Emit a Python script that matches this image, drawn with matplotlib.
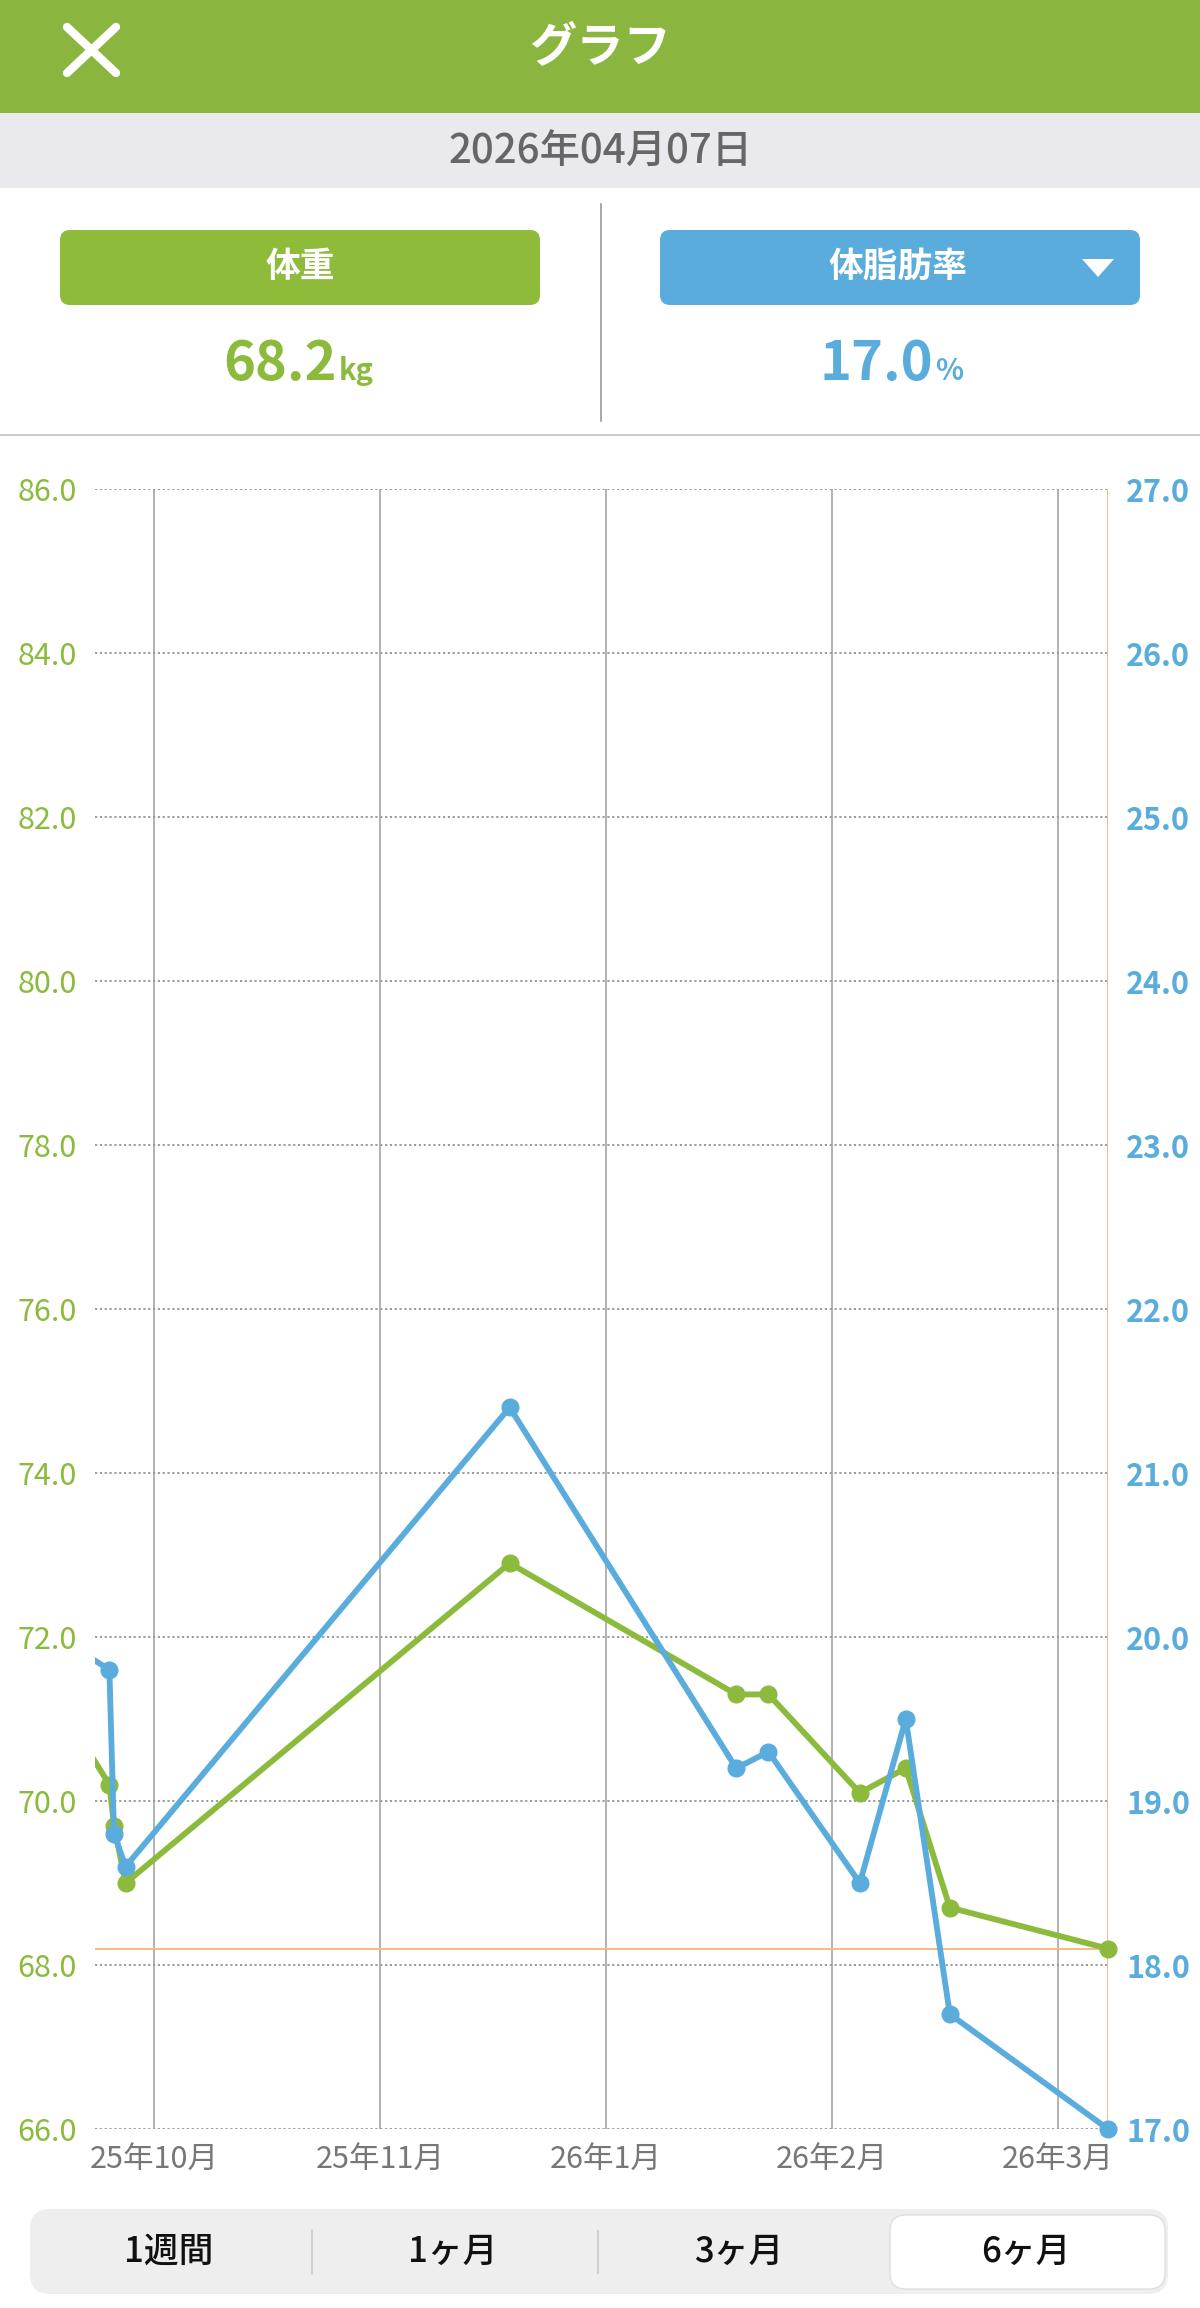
import numpy as np
import pandas as pd
import matplotlib
matplotlib.use("Agg")
import matplotlib.pyplot as plt
from matplotlib.patches import FancyBboxPatch, Rectangle, Polygon

plt.rcParams['font.family'] = ['Noto Sans CJK JP', 'DejaVu Sans']

# ── data ──────────────────────────────────────────────────────────────────────
dates = pd.to_datetime([
    "2025-10-05 00:00", "2025-10-09 14:00", "2025-10-10 10:00", "2025-10-12 12:00",
    "2025-12-20 12:00", "2026-01-30 05:00", "2026-02-05 00:00", "2026-02-21 10:00",
    "2026-03-01 16:00", "2026-03-09 14:00", "2026-04-07 00:00",
])
weight   = [70.7, 70.2, 69.7, 69.0, 72.9, 71.3, 71.3, 70.1, 70.4, 68.7, 68.2]
body_fat = [19.9, 19.8, 18.8, 18.6, 21.4, 19.2, 19.3, 18.5, 19.5, 17.7, 17.0]

x_start, x_end = pd.Timestamp("2025-10-07"), pd.Timestamp("2026-04-07")
tick_dates = pd.to_datetime(["2025-10-17 15:00", "2025-11-27 05:00", "2026-01-06 19:00",
                             "2026-02-16 09:00", "2026-03-28 23:00"])
tick_labels = ["25年10月", "25年11月", "26年1月", "26年2月", "26年3月"]
weight_ticks = np.arange(66, 86.1, 2)
fat_ticks    = np.arange(17, 27.1, 1)
tabs = ["1週間", "1ヶ月", "3ヶ月", "6ヶ月"]

GREEN      = "#8cba3c"
HEAD_GREEN = "#8ab640"
BLUE       = "#5aacdc"
ORANGE     = "#f4bc82"
GRID       = "#8a8a8a"

W, H = 1200, 2308
fig = plt.figure(figsize=(W / 100, H / 100), dpi=100)

# ── app chrome (pixel coordinates) ───────────────────────────────────────────
bg = fig.add_axes([0, 0, 1, 1])
bg.set_xlim(0, W)
bg.set_ylim(H, 0)
bg.axis('off')

bg.add_patch(Rectangle((0, 0), W, 113, color=HEAD_GREEN, lw=0))
bg.plot([67, 116], [27, 73], color="white", lw=6, solid_capstyle='round')
bg.plot([67, 116], [73, 27], color="white", lw=6, solid_capstyle='round')
bg.text(600, 48, "グラフ", color="white", fontsize=34, fontweight='bold',
        ha='center', va='center')

bg.add_patch(Rectangle((0, 113), W, 75, color="#e9e9ee", lw=0))
bg.text(600, 152, "2026年04月07日", color="#666666", fontsize=29, fontweight='medium',
        ha='center', va='center')

bg.add_patch(FancyBboxPatch((60, 230), 480, 75, boxstyle="round,pad=0,rounding_size=10",
                            color="#8fbb3b", lw=0))
bg.text(300, 266, "体重", color="white", fontsize=25, fontweight='bold',
        ha='center', va='center')
bg.add_patch(FancyBboxPatch((660, 230), 480, 75, boxstyle="round,pad=0,rounding_size=10",
                            color=BLUE, lw=0))
bg.text(898, 266, "体脂肪率", color="white", fontsize=25, fontweight='bold',
        ha='center', va='center')
bg.add_patch(Polygon([(1082, 259), (1114, 259), (1098, 277)], color="white", lw=0))

bg.text(337, 380, f"{weight[-1]:.1f}", color=GREEN, fontsize=39, fontweight='bold',
        ha='right', va='baseline')
bg.text(339, 380, "kg", color=GREEN, fontsize=21, fontweight='bold',
        ha='left', va='baseline')
bg.text(933, 380, f"{body_fat[-1]:.1f}", color=BLUE, fontsize=39, fontweight='bold',
        ha='right', va='baseline')
bg.text(935, 380, "%", color=BLUE, fontsize=21, fontweight='bold',
        ha='left', va='baseline')

bg.plot([601, 601], [204, 421], color="#9a9a9a", lw=1.2)
bg.plot([0, W], [435, 435], color="#cccccc", lw=1.5)

# tab bar
bg.add_patch(FancyBboxPatch((30, 2209), 1138, 85, boxstyle="round,pad=0,rounding_size=20",
                            color="#eeeeee", lw=0))
bg.add_patch(FancyBboxPatch((890, 2215), 275, 74, boxstyle="round,pad=0,rounding_size=16",
                            facecolor="white", edgecolor="#dedede", lw=1))
for sx in (312, 598):
    bg.plot([sx, sx], [2231, 2273], color="#d0d0d0", lw=1.5)
for cx, lab in zip((169, 453, 739, 1026), tabs):
    bg.text(cx, 2252, lab, color="#111111", fontsize=25, fontweight='medium',
            ha='center', va='center')

# ── chart ─────────────────────────────────────────────────────────────────────
left, right, top, bottom = 95, 1108, 489, 2129
ax = fig.add_axes([left / W, 1 - bottom / H, (right - left) / W, (bottom - top) / H])
ax.patch.set_alpha(0)
ax2 = ax.twinx()

ax.set_xlim(x_start, x_end)
ax.set_ylim(weight_ticks[0], weight_ticks[-1])
ax2.set_ylim(fat_ticks[0], fat_ticks[-1])

for y in weight_ticks:
    ax.axhline(y, color=GRID, lw=1.2, ls=(0, (1.3, 1.6)), zorder=1)
for t in tick_dates:
    ax.axvline(t, color="#9c9c9c", lw=1.1, zorder=1)
ax.axhline(weight[-1], color=ORANGE, lw=1.4, zorder=2)
ax.axvline(x_end, color=ORANGE, lw=1.4, zorder=2)

inside = (dates >= x_start) & (dates <= x_end)
w_arr, f_arr = np.array(weight), np.array(body_fat)

ax.plot(dates, weight, color=GREEN, lw=4.2, zorder=3, solid_joinstyle='round')
ax.plot(dates[inside], w_arr[inside], 'o', color=GREEN, ms=12, zorder=4, clip_on=False)
ax2.plot(dates, body_fat, color=BLUE, lw=4.2, zorder=3, solid_joinstyle='round')
ax2.plot(dates[inside], f_arr[inside], 'o', color=BLUE, ms=12, zorder=4, clip_on=False)

ax.set_xticks(tick_dates, tick_labels)
ax.set_yticks(weight_ticks, [f"{v:.1f}" for v in weight_ticks])
ax2.set_yticks(fat_ticks, [f"{v:.1f}" for v in fat_ticks])

ax.tick_params(axis='x', length=0, pad=11, labelsize=22, labelcolor="#777777")
ax.tick_params(axis='y', length=0, pad=13, labelsize=22, labelcolor=GREEN)
ax2.tick_params(axis='y', length=0, pad=13, labelsize=22, labelcolor=BLUE)
for lab in ax2.get_yticklabels():
    lab.set_fontweight('bold')

for a in (ax, ax2):
    for s in a.spines.values():
        s.set_visible(False)

fig.savefig("out.png", dpi=100, facecolor="white")
